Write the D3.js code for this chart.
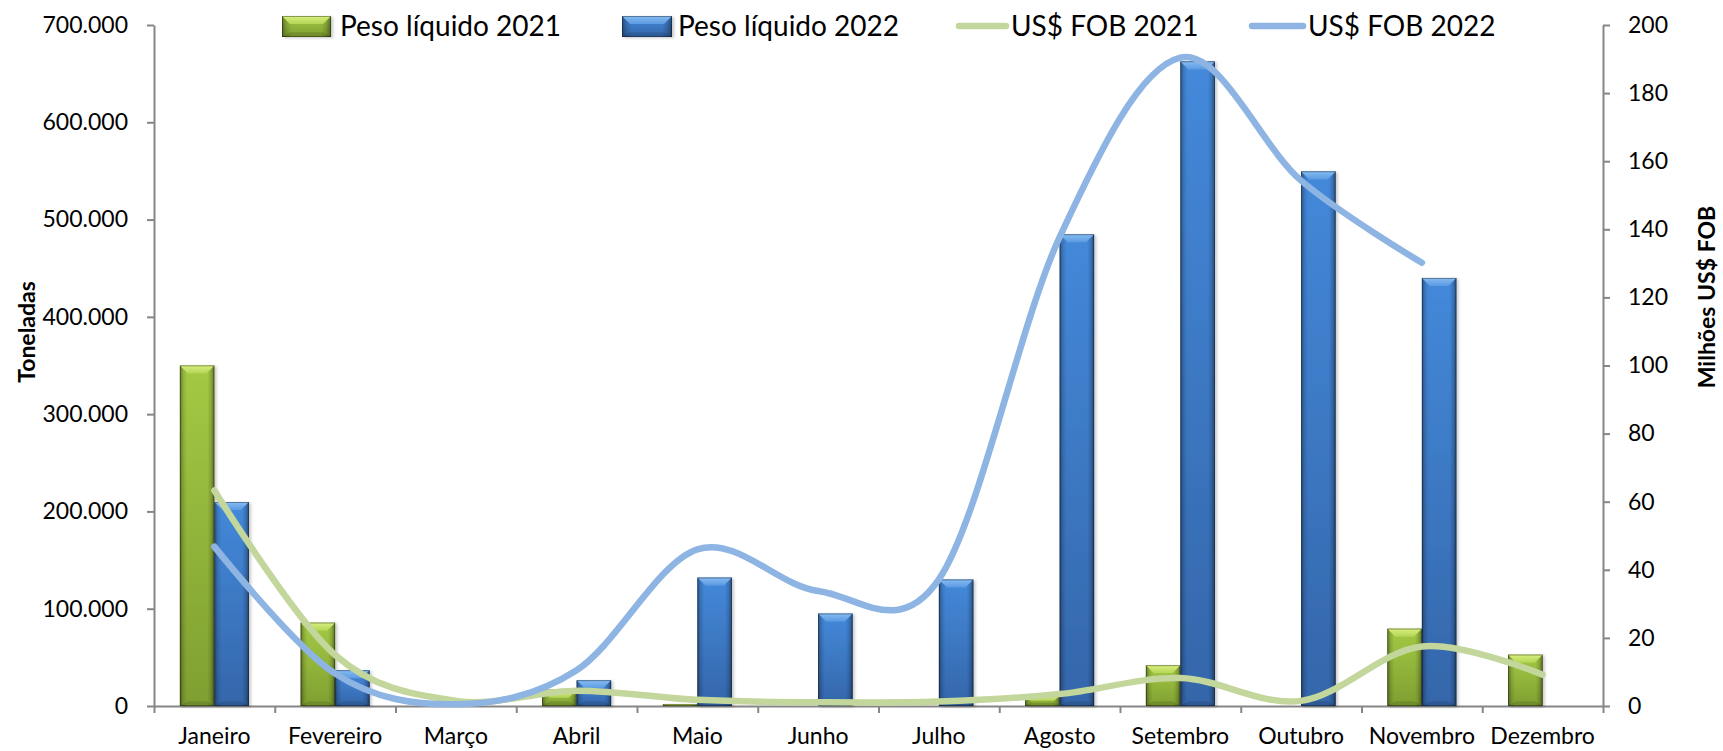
<!DOCTYPE html>
<html>
<head>
<meta charset="utf-8">
<script src="https://cdn.jsdelivr.net/npm/d3@7"></script>
<style>
  body { margin: 0; background: #fff; }
  svg { display: block; }
  text { font-family: Lato, "Open Sans", sans-serif; fill: #000; }
</style>
</head>
<body>
<svg width="1723" height="751"></svg>
<script>
// dados
var meses = ["Janeiro", "Fevereiro", "Março", "Abril", "Maio", "Junho",
             "Julho", "Agosto", "Setembro", "Outubro", "Novembro", "Dezembro"];
var peso2021 = [350000, 85700, 0, 16800, 2000, 0, 0, 11000, 41800, 0, 79500, 52800];
var peso2022 = [209700, 36700, 0, 26400, 132000, 95000, 130000, 484800, 662600, 549500, 440000, null];
var fob2021 = [63.3, 15, 1.5, 4.5, 1.8, 1.1, 1.3, 3.5, 8.2, 1.5, 17.5, 9.2];
var fob2022 = [46.8, 9.5, 0.5, 10.5, 46, 33.8, 37.2, 137.7, 190.4, 154.3, 130.2, null];
var pesoTicks = [0, 100000, 200000, 300000, 400000, 500000, 600000, 700000];
var fobTicks = [0, 20, 40, 60, 80, 100, 120, 140, 160, 180, 200];
var nomes = ["Peso líquido 2021", "Peso líquido 2022", "US$ FOB 2021", "US$ FOB 2022"];

var svg = d3.select("svg"),
    margin = {top: 25, right: 120, bottom: 45, left: 154},
    width = +svg.attr("width") - margin.left - margin.right,
    height = +svg.attr("height") - margin.top - margin.bottom;

var br = d3.formatLocale({decimal: ",", thousands: ".", grouping: [3], currency: ["R$", ""]});
var fmt = br.format(",.0f");

var x = d3.scaleBand().domain(meses).range([0, width]);
var sub = d3.scaleBand().domain(["2021", "2022"])
    .range([x.bandwidth() / 2 - 34.5, x.bandwidth() / 2 + 34.5]);
var y = d3.scaleLinear().domain([0, 700000]).range([height, 0]);
var y2 = d3.scaleLinear().domain([0, 200]).range([height, 0]);

// gradientes dos bevels
var defs = svg.append("defs");
function grad(id, vertical, stops) {
  var gr = defs.append("linearGradient").attr("id", id)
      .attr("x1", 0).attr("y1", 0).attr("x2", vertical ? 0 : 1).attr("y2", vertical ? 1 : 0);
  stops.forEach(function(s) {
    gr.append("stop").attr("offset", s[0]).attr("stop-color", s[1]).attr("stop-opacity", s[2] == null ? 1 : s[2]);
  });
}
grad("greenBody", true, [[0, "#a3c944"], [1, "#7f9f31"]]);
grad("blueBody", true, [[0, "#4489da"], [1, "#3466aa"]]);
grad("greenTop", true, [[0, "#d9f07f"], [1, "#b3d555"]]);
grad("blueTop", true, [[0, "#86bcf2"], [1, "#5b9ae2"]]);
grad("edges", false, [[0, "#000", 0.38], [0.1, "#000", 0.12], [0.2, "#000", 0], [0.8, "#000", 0],
                      [0.9, "#000", 0.14], [1, "#000", 0.42]]);
var sh = defs.append("filter").attr("id", "shadow").attr("x", "-20%").attr("y", "-5%").attr("width", "150%").attr("height", "115%");
sh.append("feDropShadow").attr("dx", 2).attr("dy", 1).attr("stdDeviation", 1.5)
  .attr("flood-color", "#000").attr("flood-opacity", 0.22);

function bevelBar(sel, x0, w, y0, y1, c) {
  var h = y1 - y0;
  if (!(h > 0)) return;
  var b = Math.min(8, h / 2, w / 2);
  var g = sel.append("g");
  g.append("rect").attr("x", x0).attr("y", y0).attr("width", w).attr("height", h)
    .attr("fill", "url(#" + c + "Body)").attr("filter", "url(#shadow)");
  g.append("rect").attr("x", x0).attr("y", y0).attr("width", w).attr("height", h)
    .attr("fill", "url(#edges)");
  g.append("polygon")
    .attr("points", [[x0, y0], [x0 + w, y0], [x0 + w - b, y0 + b], [x0 + b, y0 + b]].join(" "))
    .attr("fill", "url(#" + c + "Top)");
  g.append("polygon")
    .attr("points", [[x0, y1], [x0 + b, y1 - b * 0.6], [x0 + w - b, y1 - b * 0.6], [x0 + w, y1]].join(" "))
    .attr("fill", "#000").attr("fill-opacity", 0.12);
  g.append("rect").attr("x", x0 + 0.4).attr("y", y0 + 0.4).attr("width", w - 0.8).attr("height", h - 0.8)
    .attr("fill", "none").attr("stroke", "#000").attr("stroke-opacity", 0.45).attr("stroke-width", 0.8);
}

var g = svg.append("g")
    .attr("transform", "translate(" + margin.left + "," + margin.top + ")");

// eixo esquerdo
g.append("g")
    .attr("class", "axis axis--y")
    .call(d3.axisLeft(y).tickValues(pesoTicks).tickFormat(fmt).tickSizeInner(7).tickSizeOuter(0).tickPadding(19));

// eixo direito
g.append("g")
    .attr("class", "axis axis--y2")
    .attr("transform", "translate(" + width + ",0)")
    .call(d3.axisRight(y2).tickValues(fobTicks).tickSizeInner(7).tickSizeOuter(0).tickPadding(18));

// eixo x: marcas nos limites das categorias
g.append("g")
    .attr("class", "axis axis--x")
    .attr("transform", "translate(0," + height + ")")
    .call(d3.axisBottom(d3.scaleLinear().domain([0, meses.length]).range([0, width]))
      .ticks(meses.length).tickFormat("").tickSizeInner(7).tickSizeOuter(0));

g.append("g")
    .attr("class", "axis axis--xl")
    .attr("transform", "translate(0," + height + ")")
    .call(d3.axisBottom(x).tickSize(0).tickPadding(22))
    .select(".domain").remove();

svg.selectAll(".axis .domain").attr("stroke", "#868686").attr("stroke-width", 2);
svg.selectAll(".axis .tick line").attr("stroke", "#868686").attr("stroke-width", 2);
svg.selectAll(".axis text").attr("font-family", "Lato, sans-serif").attr("font-size", 23).attr("fill", "#000");

// barras
var bars = g.append("g").attr("class", "bars");
meses.forEach(function(m, i) {
  if (peso2021[i]) bevelBar(bars, x(m) + sub("2021"), sub.bandwidth(), y(peso2021[i]), y(0), "green");
  if (peso2022[i]) bevelBar(bars, x(m) + sub("2022"), sub.bandwidth(), y(peso2022[i]), y(0), "blue");
});

// linhas suavizadas
var line = d3.line()
    .defined(function(d) { return d != null; })
    .x(function(d, i) { return x(meses[i]) + x.bandwidth() / 2; })
    .y(function(d) { return y2(d); })
    .curve(d3.curveCardinal);

g.append("path").datum(fob2021)
    .attr("fill", "none").attr("stroke", "#c3d69b").attr("stroke-width", 6.5)
    .attr("stroke-linecap", "round").attr("stroke-linejoin", "round")
    .attr("d", line);
g.append("path").datum(fob2022)
    .attr("fill", "none").attr("stroke", "#8db4e2").attr("stroke-width", 6.5)
    .attr("stroke-linecap", "round").attr("stroke-linejoin", "round")
    .attr("d", line);

// títulos dos eixos
svg.append("text")
    .attr("transform", "translate(35,332) rotate(-90)")
    .attr("text-anchor", "middle")
    .attr("font-weight", "bold").attr("font-size", 23)
    .text("Toneladas");
svg.append("text")
    .attr("transform", "translate(1715,297) rotate(-90)")
    .attr("text-anchor", "middle")
    .attr("font-weight", "bold").attr("font-size", 23)
    .text("Milhões US$ FOB");

// legenda
var leg = svg.append("g").attr("class", "legend");
var legY = 26;
bevelBar(leg, 282, 49, legY - 10, legY + 11, "green");
leg.append("text").attr("x", 340).attr("y", legY).attr("dy", "0.36em").attr("font-size", 28).text(nomes[0]);
bevelBar(leg, 622, 50, legY - 10, legY + 11, "blue");
leg.append("text").attr("x", 678).attr("y", legY).attr("dy", "0.36em").attr("font-size", 28).text(nomes[1]);
leg.append("line").attr("x1", 959).attr("x2", 1006).attr("y1", legY).attr("y2", legY)
    .attr("stroke", "#c3d69b").attr("stroke-width", 6.5).attr("stroke-linecap", "round");
leg.append("text").attr("x", 1011).attr("y", legY).attr("dy", "0.36em").attr("font-size", 28).text(nomes[2]);
leg.append("line").attr("x1", 1252).attr("x2", 1303).attr("y1", legY).attr("y2", legY)
    .attr("stroke", "#8db4e2").attr("stroke-width", 6.5).attr("stroke-linecap", "round");
leg.append("text").attr("x", 1308).attr("y", legY).attr("dy", "0.36em").attr("font-size", 28).text(nomes[3]);
</script>
</body>
</html>
